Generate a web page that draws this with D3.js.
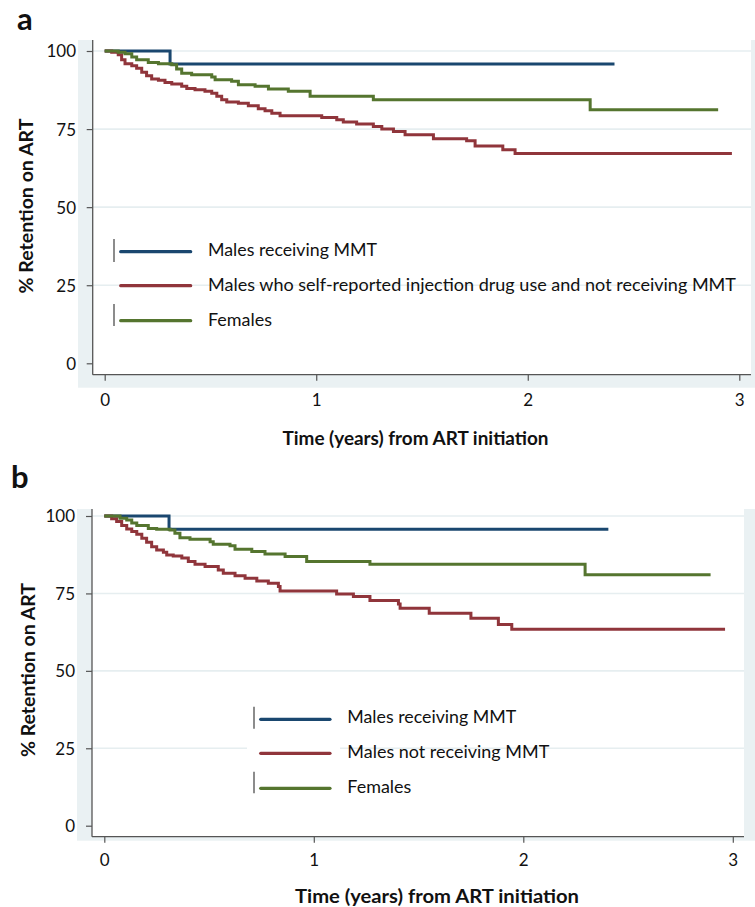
<!DOCTYPE html>
<html>
<head>
<meta charset="utf-8">
<script src="https://cdn.jsdelivr.net/npm/d3@7"></script>
<style>
  html, body { margin: 0; padding: 0; background: #fff; }
  svg { display: block; }
  text { font-family: Lato, "Open Sans", sans-serif; fill: #111; }
</style>
</head>
<body>
<svg id="chart" width="755" height="907"></svg>
<script>
// ---------------- DATA ----------------
const xTicks = [0, 1, 2, 3];
const yTicks = [0, 25, 50, 75, 100];
const xTitle = "Time (years) from ART initiation";
const yTitle = "% Retention on ART";

const seriesNames = ["mmt", "noMmt", "females"];
const colors = ["#1A476F", "#90353B", "#55752F"];

const legendA = ["Males receiving MMT",
  "Males who self-reported injection drug use and not receiving MMT",
  "Females"];
const legendB = ["Males receiving MMT", "Males not receiving MMT", "Females"];

// Panel a: [time (years), % retained]
const aMmt = [[0,100],[0.309,95.8],[2.41,95.8]];
const aNoMmt = [[0,100],[0.033,99.6],[0.064,98.8],[0.080,97.2],[0.096,95.9],[0.128,95.3],[0.151,94.5],[0.175,93.2],[0.198,92.1],[0.222,91.0],[0.254,90.6],[0.285,89.9],[0.317,89.4],[0.364,88.7],[0.388,88.0],[0.427,87.6],[0.474,87.1],[0.506,86.5],[0.530,85.5],[0.553,84.4],[0.577,83.7],[0.632,83.3],[0.679,82.5],[0.726,81.5],[0.758,80.9],[0.790,80.1],[0.829,79.3],[1.026,78.7],[1.097,78.0],[1.128,77.3],[1.191,76.6],[1.270,75.8],[1.310,75.0],[1.365,74.2],[1.420,73.2],[1.554,71.9],[1.711,71.3],[1.751,69.6],[1.882,68.4],[1.940,67.2],[2.965,67.2]];
const aFemales = [[0,100],[0.064,99.6],[0.096,99.1],[0.128,98.1],[0.151,97.2],[0.206,96.3],[0.254,95.9],[0.317,95.6],[0.340,94.2],[0.364,92.9],[0.411,92.4],[0.506,91.7],[0.522,90.8],[0.600,90.3],[0.632,89.2],[0.711,88.7],[0.774,87.8],[0.868,87.1],[0.971,85.5],[1.27,84.4],[2.295,81.2],[2.90,81.2]];

// Panel b
const bMmt = [[0,100],[0.309,95.7],[2.406,95.7]];
const bNoMmt = [[0,100],[0.035,99.1],[0.059,98.2],[0.083,96.9],[0.107,95.8],[0.131,95.0],[0.155,94.1],[0.179,92.8],[0.202,91.5],[0.226,90.1],[0.250,89.0],[0.282,88.3],[0.298,87.4],[0.329,87.1],[0.370,86.4],[0.401,85.3],[0.433,84.4],[0.481,83.7],[0.544,82.6],[0.568,81.5],[0.624,80.7],[0.672,79.9],[0.728,79.0],[0.783,78.3],[0.831,77.2],[0.839,75.8],[1.109,74.8],[1.189,74.0],[1.268,72.7],[1.404,71.6],[1.412,70.2],[1.551,68.6],[1.750,67.0],[1.881,65.0],[1.945,63.4],[2.963,63.4]];
const bFemales = [[0,100],[0.075,99.3],[0.107,98.7],[0.131,97.7],[0.155,96.9],[0.210,96.0],[0.250,95.7],[0.314,95.5],[0.337,94.4],[0.361,93.0],[0.409,92.5],[0.505,91.7],[0.520,90.9],[0.600,90.4],[0.624,89.3],[0.704,88.5],[0.767,87.7],[0.863,86.9],[0.966,85.3],[1.268,84.4],[2.295,81.0],[2.894,81.0]];

// ---------------- LAYOUT ----------------
const panels = [
  { label: "a", labelX: 17, labelY: 30,
    series: [aMmt, aNoMmt, aFemales], legend: legendA,
    outer: {x0: 78, x1: 755, y0: 40, y1: 387.7},
    plot: {x0: 92.7, x1: 751, y0: 40, y1: 374.7},
    xr: [104.7, 739.3], yr: [363.3, 51],
    xLabelY: 400, yLabelX: 76,
    xTitle: {x: 415.5, y: 438, len: 266}, yTitle: {x: 26, y: 206, len: 175},
    leg: {barX: 114, bars: [[239, 262], [304, 326]], lx0: 120.7, lx1: 190.7, ly: [251.7, 285.7, 320.7], tx: 208, ty: [250, 285, 320], lens: [169, 528, 64], box: null}
  },
  { label: "b", labelX: 11, labelY: 488,
    series: [bMmt, bNoMmt, bFemales], legend: legendB,
    outer: {x0: 77, x1: 755, y0: 509, y1: 840.7},
    plot: {x0: 92, x1: 744, y0: 509, y1: 836.7},
    xr: [104.3, 732.8], yr: [825.7, 516],
    xLabelY: 860, yLabelX: 75,
    xTitle: {x: 437, y: 896.7, len: 284}, yTitle: {x: 28, y: 670, len: 174},
    leg: {barX: 254, bars: [[706.7, 728.7], [771.7, 793.3]], lx0: 260.7, lx1: 330, ly: [719.3, 753.3, 788.3], tx: 347.3, ty: [717, 752, 787], lens: [169, 202, 64], box: {x0: 247, x1: 340, y0: 698, y1: 800}}
  }
];

const svg = d3.select("#chart");

panels.forEach(p => {
  const g = svg.append("g");
  const x = d3.scaleLinear().domain([0, 3]).range(p.xr);
  const y = d3.scaleLinear().domain([0, 100]).range(p.yr);

  // outer graph region
  g.append("rect").attr("x", p.outer.x0).attr("y", p.outer.y0)
    .attr("width", p.outer.x1 - p.outer.x0).attr("height", p.outer.y1 - p.outer.y0)
    .attr("fill", "#EAF1F3");
  // plot region
  g.append("rect").attr("x", p.plot.x0).attr("y", p.plot.y0)
    .attr("width", p.plot.x1 - p.plot.x0).attr("height", p.plot.y1 - p.plot.y0)
    .attr("fill", "#fff");

  // gridlines
  g.selectAll(".grid").data(yTicks.filter(d => d > 0)).enter().append("line")
    .attr("x1", p.plot.x0).attr("x2", p.plot.x1)
    .attr("y1", d => y(d)).attr("y2", d => y(d))
    .attr("stroke", "#E6EEF0").attr("stroke-width", 1.6);

  // axes
  const yAxis = d3.axisLeft(y).tickValues(yTicks).tickSize(6).tickPadding(10).tickFormat(d3.format("d"));
  const ya = g.append("g").attr("transform", `translate(${p.plot.x0},0)`).call(yAxis);
  ya.select(".domain").remove();
  ya.selectAll(".tick line").attr("stroke", "#555").attr("stroke-width", 1.2);
  ya.selectAll("text").attr("font-size", 17).attr("fill", "#111")
    .attr("x", p.yLabelX - p.plot.x0).attr("dy", "0.35em");

  const xAxis = d3.axisBottom(x).tickValues(xTicks).tickSize(6).tickPadding(13).tickFormat(d3.format("d"));
  const xa = g.append("g").attr("transform", `translate(0,${p.plot.y1})`).call(xAxis);
  xa.select(".domain").remove();
  xa.selectAll(".tick line").attr("stroke", "#555").attr("stroke-width", 1.2);
  xa.selectAll("text").attr("font-size", 17).attr("fill", "#111")
    .attr("y", p.xLabelY - p.plot.y1).attr("dy", "0.35em");

  // axis lines
  g.append("line").attr("x1", p.plot.x0).attr("x2", p.plot.x0)
    .attr("y1", p.plot.y0).attr("y2", p.plot.y1).attr("stroke", "#555").attr("stroke-width", 1.3);
  g.append("line").attr("x1", p.plot.x0).attr("x2", p.plot.x1)
    .attr("y1", p.plot.y1).attr("y2", p.plot.y1).attr("stroke", "#555").attr("stroke-width", 1.3);

  // curves
  const line = d3.line().x(d => x(d[0])).y(d => y(d[1])).curve(d3.curveStepAfter);
  p.series.forEach((s, i) => {
    g.append("path").datum(s).attr("d", line)
      .attr("fill", "none").attr("stroke", colors[i])
      .attr("stroke-width", 3).attr("stroke-linejoin", "miter");
  });

  // legend
  const L = p.leg;
  if (L.box) {
    g.append("rect").attr("x", L.box.x0).attr("y", L.box.y0)
      .attr("width", L.box.x1 - L.box.x0).attr("height", L.box.y1 - L.box.y0).attr("fill", "#fff");
  }
  L.bars.forEach(b => {
    g.append("line").attr("x1", L.barX).attr("x2", L.barX).attr("y1", b[0]).attr("y2", b[1])
      .attr("stroke", "#666").attr("stroke-width", 1.5);
  });
  p.legend.forEach((name, i) => {
    g.append("line").attr("x1", L.lx0).attr("x2", L.lx1).attr("y1", L.ly[i]).attr("y2", L.ly[i])
      .attr("stroke", colors[i]).attr("stroke-width", 3.2).attr("stroke-linecap", "round");
    g.append("text").attr("x", L.tx).attr("y", L.ty[i]).attr("dy", "0.35em")
      .attr("font-size", 18).attr("textLength", L.lens[i]).attr("lengthAdjust", "spacingAndGlyphs")
      .text(name);
  });

  // titles
  g.append("text").attr("x", p.xTitle.x).attr("y", p.xTitle.y).attr("dy", "0.35em")
    .attr("text-anchor", "middle").attr("font-size", 19).attr("font-weight", 700)
    .attr("textLength", p.xTitle.len).attr("lengthAdjust", "spacingAndGlyphs")
    .text(xTitle);
  g.append("text").attr("transform", `translate(${p.yTitle.x},${p.yTitle.y}) rotate(-90)`)
    .attr("dy", "0.35em").attr("text-anchor", "middle").attr("font-size", 19).attr("font-weight", 700)
    .attr("textLength", p.yTitle.len).attr("lengthAdjust", "spacingAndGlyphs")
    .text(yTitle);

  // panel letter
  g.append("text").attr("x", p.labelX).attr("y", p.labelY)
    .attr("font-family", "'Liberation Sans', Arial, sans-serif")
    .attr("font-size", 31).attr("font-weight", 700).attr("fill", "#000")
    .text(p.label);
});
</script>
</body>
</html>
